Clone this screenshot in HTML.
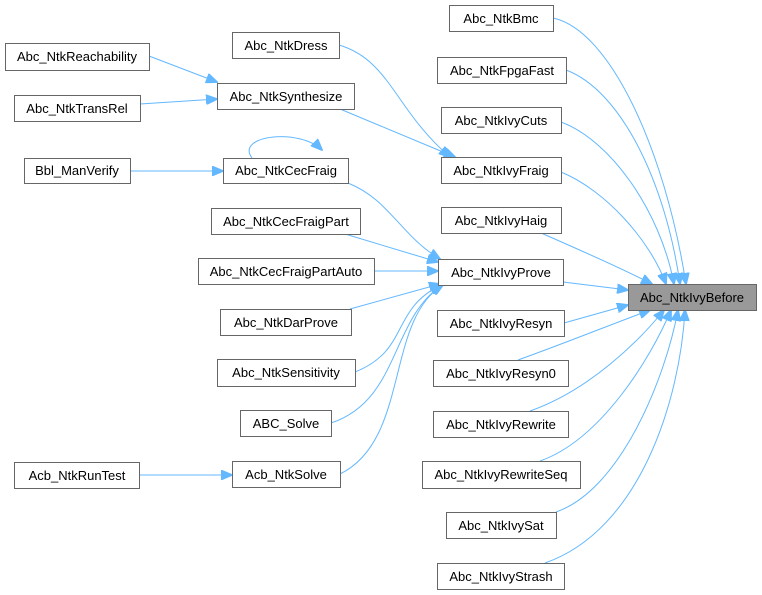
<!DOCTYPE html>
<html><head><meta charset="utf-8"><style>
html,body{margin:0;padding:0;background:#fff;}
svg{display:block;}
text{font-family:"Liberation Sans",Arial,sans-serif;font-size:13px;fill:#000;text-anchor:middle;}
rect{fill:#fff;stroke:#666;stroke-width:1;}
path{fill:none;stroke:#63b8ff;stroke-width:1;}
</style></head><body>
<svg width="762" height="595" viewBox="0 0 762 595" xmlns="http://www.w3.org/2000/svg">
<defs><marker id="a" markerWidth="12" markerHeight="10" refX="11" refY="5" orient="auto" markerUnits="userSpaceOnUse"><path d="M0,0 L12,5 L0,10 Z" style="fill:#63b8ff;stroke:#63b8ff"/></marker></defs>
<g marker-end="url(#a)">
<path d="M553,18 C610,30 665,150 686,284"/>
<path d="M566,70 C620,90 665,180 680,284"/>
<path d="M561,122 C610,140 660,210 674,284"/>
<path d="M561,172 C605,190 650,240 666,284"/>
<path d="M541,233 C580,250 625,270 652,284"/>
<path d="M563,282 L628,290"/>
<path d="M564,323 L628,305"/>
<path d="M518,360 C560,345 610,325 650,310"/>
<path d="M530,411 C590,390 640,340 664,310"/>
<path d="M540,461 C600,440 650,360 671,310"/>
<path d="M556,512 C620,490 665,380 678,310"/>
<path d="M545,563 C640,530 680,400 685,310"/>
<path d="M348,183 C390,200 400,235 440,259"/>
<path d="M345,234 L438,262"/>
<path d="M374,271 L438,271"/>
<path d="M350,309 L440,284"/>
<path d="M355,372 C410,350 390,310 441,285"/>
<path d="M331,423 C400,400 390,320 442,285"/>
<path d="M340,474 C410,440 385,320 443,285"/>
<path d="M340,109 L455,157"/>
<path d="M339,45 C390,60 395,110 450,157"/>
<path d="M149,56 L217,82"/>
<path d="M140,104 L217,99"/>
<path d="M130,171 L223,171"/>
<path d="M139,475 L232,475"/>
<path d="M252,158 C235,135 300,128 322,150"/>
</g>
<rect x="628.5" y="284.5" width="128" height="26" style="fill:#999"/><text x="692" y="302">Abc_NtkIvyBefore</text>
<rect x="449.5" y="5.5" width="104" height="26"/><text x="501" y="23">Abc_NtkBmc</text>
<rect x="437.5" y="57.5" width="129" height="26"/><text x="502" y="75">Abc_NtkFpgaFast</text>
<rect x="441.5" y="107.5" width="120" height="26"/><text x="501" y="125">Abc_NtkIvyCuts</text>
<rect x="441.5" y="157.5" width="120" height="26"/><text x="501" y="175">Abc_NtkIvyFraig</text>
<rect x="441.5" y="207.5" width="120" height="26"/><text x="501" y="225">Abc_NtkIvyHaig</text>
<rect x="438.5" y="259.5" width="125" height="26"/><text x="501" y="277">Abc_NtkIvyProve</text>
<rect x="437.5" y="310.5" width="127" height="26"/><text x="501" y="328">Abc_NtkIvyResyn</text>
<rect x="433.5" y="360.5" width="135" height="26"/><text x="501" y="378">Abc_NtkIvyResyn0</text>
<rect x="433.5" y="411.5" width="135" height="26"/><text x="501" y="429">Abc_NtkIvyRewrite</text>
<rect x="422.5" y="461.5" width="158" height="27"/><text x="501" y="479">Abc_NtkIvyRewriteSeq</text>
<rect x="446.5" y="512.5" width="110" height="26"/><text x="501" y="530">Abc_NtkIvySat</text>
<rect x="437.5" y="563.5" width="127" height="26"/><text x="501" y="581">Abc_NtkIvyStrash</text>
<rect x="232.5" y="32.5" width="107" height="26"/><text x="286" y="50">Abc_NtkDress</text>
<rect x="217.5" y="83.5" width="137" height="26"/><text x="286" y="101">Abc_NtkSynthesize</text>
<rect x="223.5" y="158.5" width="125" height="25"/><text x="286" y="175">Abc_NtkCecFraig</text>
<rect x="211.5" y="208.5" width="149" height="26"/><text x="286" y="226">Abc_NtkCecFraigPart</text>
<rect x="198.5" y="258.5" width="176" height="26"/><text x="286" y="276">Abc_NtkCecFraigPartAuto</text>
<rect x="220.5" y="309.5" width="131" height="26"/><text x="286" y="327">Abc_NtkDarProve</text>
<rect x="217.5" y="359.5" width="138" height="27"/><text x="286" y="377">Abc_NtkSensitivity</text>
<rect x="240.5" y="410.5" width="91" height="26"/><text x="286" y="428">ABC_Solve</text>
<rect x="232.5" y="461.5" width="108" height="26"/><text x="286" y="479">Acb_NtkSolve</text>
<rect x="5.5" y="43.5" width="144" height="27"/><text x="77" y="61">Abc_NtkReachability</text>
<rect x="14.5" y="95.5" width="126" height="26"/><text x="77" y="113">Abc_NtkTransRel</text>
<rect x="24.5" y="158.5" width="106" height="25"/><text x="77" y="175">Bbl_ManVerify</text>
<rect x="14.5" y="462.5" width="125" height="26"/><text x="77" y="480">Acb_NtkRunTest</text>
</svg>
</body></html>
